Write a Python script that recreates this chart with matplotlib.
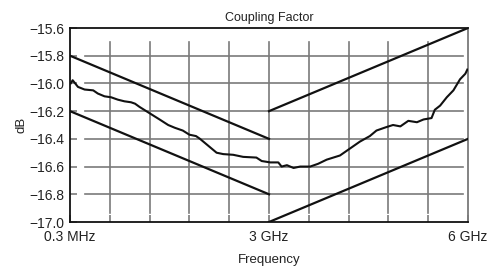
'''
Coupling factor vs frequency with limit lines
'''

import matplotlib.pyplot as plt
import numpy as np

plt.rcParams['font.family'] = ['Liberation Sans Narrow', 'Liberation Sans', 'DejaVu Sans']

freq = [0.01, 0.04, 0.12, 0.22, 0.35, 0.42, 0.52, 0.62, 0.72, 0.82, 0.92, 0.98,
        1.05, 1.15, 1.25, 1.35, 1.48, 1.58, 1.70, 1.80, 1.90, 1.96, 2.11, 2.21,
        2.31, 2.46, 2.61, 2.81, 2.89, 3.02, 3.14, 3.19, 3.27, 3.37, 3.47, 3.62,
        3.74, 3.87, 4.07, 4.22, 4.37, 4.52, 4.62, 4.77, 4.87, 4.98, 5.10, 5.23,
        5.33, 5.45, 5.50, 5.58, 5.68, 5.78, 5.88, 5.96, 5.99]
coupling = [-16.00, -15.977, -16.025, -16.044, -16.05, -16.073, -16.093, -16.10,
            -16.117, -16.129, -16.136, -16.146, -16.17, -16.20, -16.23, -16.26,
            -16.30, -16.32, -16.34, -16.37, -16.38, -16.40, -16.46, -16.50,
            -16.51, -16.515, -16.53, -16.535, -16.56, -16.57, -16.57, -16.60,
            -16.59, -16.61, -16.60, -16.60, -16.58, -16.55, -16.52, -16.47,
            -16.42, -16.38, -16.34, -16.315, -16.30, -16.31, -16.27, -16.28,
            -16.26, -16.25, -16.19, -16.16, -16.10, -16.05, -15.97, -15.93, -15.90]

# limit lines: (x pair, y pair)
limit_x = [[0, 3], [0, 3], [3, 6], [3, 6]]
limit_y = [[-15.8, -16.4], [-16.2, -16.8], [-16.2, -15.6], [-17.0, -16.4]]

xtick_pos = [0, 3, 6]
xtick_labels = ['0.3 MHz', '3 GHz', '6 GHz']
xgrid = [0.6, 1.2, 1.8, 2.4, 3.0, 3.6, 4.2, 4.8, 5.4]
yticks = [-15.6, -15.8, -16.0, -16.2, -16.4, -16.6, -16.8, -17.0]

fig = plt.figure(figsize=(4.89, 2.72), dpi=100)
ax = fig.add_axes([70/489, 1 - 222/272, 398/489, 194/272])

grid_col = '#7a7a7a'
# gridlines with a small gap at the axes
for y in yticks[1:-1]:
    ax.axhline(y, xmin=0.038, xmax=0.987, color=grid_col, lw=1.2, zorder=1)
for x in xgrid:
    ax.axvline(x, ymin=0.046, ymax=0.928, color=grid_col, lw=1.2, zorder=1)

for lx, ly in zip(limit_x, limit_y):
    ax.plot(lx, ly, color='#111111', lw=1.6, zorder=3)
ax.plot(freq, coupling, color='#111111', lw=1.5, zorder=3)

ax.set_xlim(0, 6)
ax.set_ylim(-17.0, -15.6)
ax.set_yticks(yticks)
ax.set_yticklabels([('%.1f' % v).replace('-', '\u2212') for v in yticks])
ax.set_xticks(xtick_pos)
ax.set_xticklabels(xtick_labels)
ax.set_xticks(xgrid, minor=True)

ax.tick_params(axis='both', which='both', direction='in', length=5, width=1.2,
               color=grid_col, labelsize=10, labelcolor='#222222')
ax.tick_params(axis='y', pad=4)
ax.tick_params(axis='x', pad=6)

for s in ['left', 'bottom', 'top']:
    ax.spines[s].set_color('#111111')
    ax.spines[s].set_linewidth(1.3)
ax.spines['right'].set_color(grid_col)
ax.spines['right'].set_linewidth(1.3)

ax.set_title('Coupling Factor', fontsize=9, color='#222222', pad=5)
ax.set_xlabel('Frequency', fontsize=9.5, color='#222222', labelpad=7)
ax.set_ylabel('dB', fontsize=9.5, color='#222222')
ax.yaxis.set_label_coords(-0.108, 0.5)

plt.savefig('out.png')
